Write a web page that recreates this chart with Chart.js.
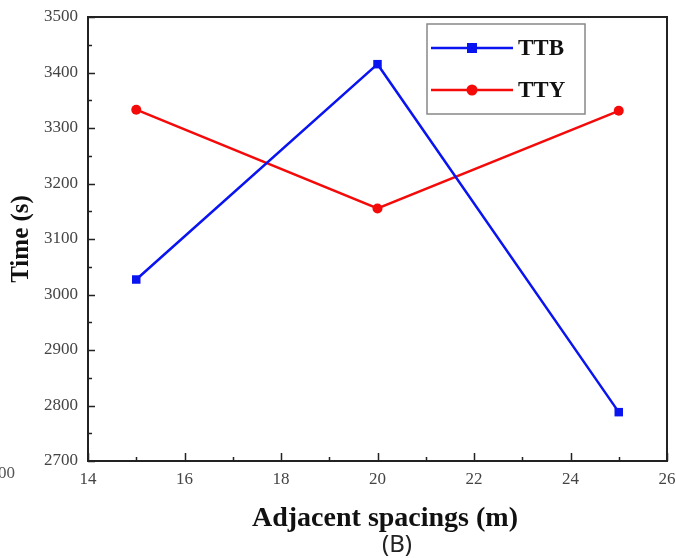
<!DOCTYPE html>
<html>
<head>
<meta charset="utf-8">
<script src="https://cdn.jsdelivr.net/npm/chart.js@4"></script>
<style>
  html, body { margin: 0; padding: 0; background: #fff; }
  #wrap { width: 676px; height: 558px; position: relative; }
</style>
</head>
<body>
<div id="wrap"><canvas id="myChart" width="676" height="558"></canvas></div>
<script>
const spacings = [15, 20, 25];
const ttbTimes = [3027, 3415, 2788];
const ttyTimes = [3333, 3155, 3331];
const seriesNames = ["TTB", "TTY"];
const xTitle = "Adjacent spacings (m)";
const yTitle = "Time (s)";
const caption = "(B)";

const serif = "'Liberation Serif', 'Times New Roman', serif";

// inward ticks (major + minor), box border, legend, x title, caption and the stray "00" of the neighbour panel
const framePlugin = {
    id: 'frame',
    afterDraw(chart) {
        const ctx = chart.ctx;
        const a = chart.chartArea;
        const xs = chart.scales.x, ys = chart.scales.y;
        ctx.save();
        ctx.strokeStyle = '#222';
        ctx.lineWidth = 2;
        ctx.strokeRect(a.left, a.top, a.right - a.left, a.bottom - a.top);

        ctx.lineWidth = 1.5;
        ctx.beginPath();
        for (let v = 2700; v <= 3500; v += 50) {
            const y = Math.round(ys.getPixelForValue(v)) + 0.5;
            const len = (v % 100 === 0) ? 7 : 4;
            ctx.moveTo(a.left, y);
            ctx.lineTo(a.left + len, y);
        }
        for (let v = 14; v <= 26; v += 1) {
            const x = Math.round(xs.getPixelForValue(v)) + 0.5;
            const len = (v % 2 === 0) ? 8 : 4;
            ctx.moveTo(x, a.bottom);
            ctx.lineTo(x, a.bottom - len);
        }
        ctx.stroke();

        // legend
        const lx = 427, ly = 24, lw = 158, lh = 90;
        ctx.strokeStyle = '#888';
        ctx.lineWidth = 1.5;
        ctx.strokeRect(lx, ly, lw, lh);
        chart.data.datasets.forEach((ds, i) => {
            const y = 48 + i * 42;
            ctx.strokeStyle = ds.borderColor;
            ctx.lineWidth = 2.5;
            ctx.beginPath();
            ctx.moveTo(431, y);
            ctx.lineTo(513, y);
            ctx.stroke();
            ctx.fillStyle = ds.borderColor;
            ctx.beginPath();
            if (ds.pointStyle === 'rect') {
                ctx.rect(467, y - 5, 10, 10);
            } else {
                ctx.arc(472, y, 5.5, 0, Math.PI * 2);
            }
            ctx.fill();
            ctx.fillStyle = '#111';
            ctx.font = "bold 23px " + serif;
            ctx.textBaseline = 'middle';
            ctx.textAlign = 'left';
            ctx.fillText(ds.label, 518, y + 1);
        });

        // x axis title
        ctx.fillStyle = '#111';
        ctx.font = "bold 28px " + serif;
        ctx.textAlign = 'center';
        ctx.textBaseline = 'alphabetic';
        ctx.fillText(xTitle, 385, 526);

        ctx.fillStyle = '#222';
        ctx.font = "24px 'Noto Sans', 'DejaVu Sans', sans-serif";
        ctx.textBaseline = 'middle';
        ctx.fillText(caption, 397, 545);

        ctx.fillStyle = '#555';
        ctx.font = "17px " + serif;
        ctx.textAlign = 'right';
        ctx.fillText("00", 15, 474);
        ctx.restore();
    }
};

const ctx = document.getElementById('myChart').getContext('2d');
const myChart = new Chart(ctx, {
    type: 'line',
    data: {
        datasets: [
            {
                label: seriesNames[0],
                data: spacings.map((x, i) => ({ x: x, y: ttbTimes[i] })),
                borderColor: '#0a14f0',
                backgroundColor: '#0a14f0',
                borderWidth: 2.5,
                pointStyle: 'rect',
                pointRadius: 6,
                pointBorderWidth: 0,
                tension: 0
            },
            {
                label: seriesNames[1],
                data: spacings.map((x, i) => ({ x: x, y: ttyTimes[i] })),
                borderColor: '#f50a0a',
                backgroundColor: '#f50a0a',
                borderWidth: 2.5,
                pointStyle: 'circle',
                pointRadius: 5,
                pointBorderWidth: 0,
                tension: 0
            }
        ]
    },
    options: {
        responsive: false,
        animation: { duration: 0 },
        layout: { padding: { top: 17, right: 9, left: 0, bottom: 24 } },
        plugins: {
            legend: { display: false },
            tooltip: { enabled: false }
        },
        scales: {
            x: {
                type: 'linear',
                min: 14,
                max: 26,
                afterFit(scale) {
                    scale.height = 73;
                    scale.paddingLeft = 0;
                    scale.paddingRight = 0;
                },
                grid: { display: false, drawTicks: false },
                border: { display: true, color: '#222', width: 2 },
                ticks: {
                    stepSize: 2,
                    padding: 8,
                    color: '#444',
                    font: { family: serif, size: 17 }
                },
                title: { display: false }
            },
            y: {
                min: 2700,
                max: 3500,
                afterFit(scale) {
                    scale.width = 88;
                    scale.paddingTop = 0;
                    scale.paddingBottom = 0;
                },
                grid: { display: false, drawTicks: false },
                border: { display: true, color: '#222', width: 2 },
                ticks: {
                    stepSize: 100,
                    padding: 10,
                    color: '#444',
                    font: { family: serif, size: 17 },
                    callback: (v) => String(v)
                },
                title: {
                    display: true,
                    text: yTitle,
                    color: '#111',
                    font: { family: serif, size: 25, weight: 'bold' },
                    padding: { top: 7, bottom: 0 }
                }
            }
        }
    },
    plugins: [framePlugin]
});
</script>
</body>
</html>
